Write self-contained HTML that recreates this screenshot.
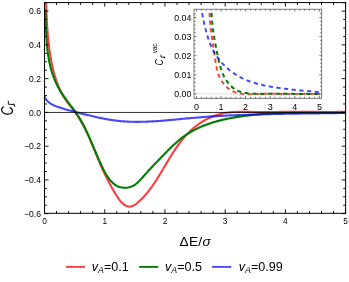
<!DOCTYPE html>
<html><head><meta charset="utf-8"><title>plot</title>
<style>html,body{margin:0;padding:0;background:#fff;}body{width:349px;height:282px;overflow:hidden;position:relative;font-family:"Liberation Sans",sans-serif;}</style></head>
<body>
<svg width="349" height="282" viewBox="0 0 349 282" style="position:absolute;left:0;top:0;will-change:transform">
<defs>
<clipPath id="cm"><rect x="44.55" y="2.6" width="301.05" height="210.70000000000002"/></clipPath>
<clipPath id="ci"><rect x="194.0" y="13" width="127.69999999999999" height="85.3"/></clipPath>
</defs>
<rect width="349" height="282" fill="#fff"/>
<g clip-path="url(#cm)" fill="none" stroke-width="2.1" stroke-linejoin="round">
<path d="M45.82 -5.99 L45.87 -4.34 L45.93 -2.68 L45.98 -1.03 L46.04 0.62 L46.10 2.28 L46.15 3.93 L46.21 5.59 L46.27 7.24 L46.33 8.90 L46.40 10.55 L46.47 12.21 L46.53 13.86 L46.61 15.52 L46.68 17.17 L46.76 18.83 L46.85 20.48 L46.94 22.14 L47.03 23.79 L47.13 25.45 L47.24 27.10 L47.35 28.75 L47.47 30.40 L47.59 32.06 L47.72 33.71 L47.86 35.36 L48.01 37.01 L48.17 38.66 L48.33 40.30 L48.50 41.95 L48.68 43.59 L48.87 45.24 L49.07 46.88 L49.28 48.52 L49.51 50.16 L49.74 51.80 L49.98 53.44 L50.23 55.08 L50.50 56.71 L50.78 58.34 L51.07 59.97 L51.38 61.60 L51.70 63.23 L52.03 64.85 L52.38 66.47 L52.75 68.08 L53.14 69.69 L53.54 71.30 L53.97 72.90 L54.41 74.49 L54.88 76.08 L55.36 77.66 L55.87 79.23 L56.40 80.80 L56.96 82.36 L57.54 83.91 L58.15 85.45 L58.78 86.98 L59.44 88.51 L60.13 90.02 L60.85 91.51 L61.60 92.99 L62.39 94.46 L63.20 95.90 L64.05 97.32 L64.94 98.72 L65.86 100.09 L66.81 101.44 L67.79 102.77 L68.80 104.09 L69.81 105.40 L70.83 106.70 L71.86 108.00 L72.88 109.30 L73.88 110.61 L74.87 111.93 L75.83 113.27 L76.77 114.63 L77.68 116.00 L78.58 117.38 L79.45 118.78 L80.31 120.19 L81.14 121.61 L81.96 123.04 L82.76 124.49 L83.54 125.94 L84.31 127.41 L85.06 128.88 L85.80 130.36 L86.52 131.85 L87.24 133.35 L87.94 134.86 L88.63 136.37 L89.31 137.88 L89.99 139.40 L90.65 140.93 L91.31 142.46 L91.96 143.99 L92.60 145.53 L93.25 147.07 L93.88 148.61 L94.52 150.15 L95.15 151.68 L95.78 153.22 L96.41 154.76 L97.04 156.30 L97.68 157.83 L98.31 159.37 L98.95 160.89 L99.59 162.42 L100.23 163.94 L100.89 165.45 L101.54 166.96 L102.21 168.46 L102.88 169.96 L103.56 171.45 L104.25 172.93 L104.95 174.41 L105.66 175.88 L106.38 177.35 L107.11 178.81 L107.86 180.27 L108.61 181.73 L109.38 183.19 L110.16 184.64 L110.96 186.09 L111.76 187.55 L112.59 189.00 L113.43 190.45 L114.28 191.90 L115.15 193.36 L116.04 194.81 L116.95 196.27 L117.89 197.72 L118.89 199.15 L119.97 200.55 L121.15 201.90 L122.43 203.18 L123.80 204.35 L125.22 205.32 L126.66 206.05 L128.10 206.48 L129.52 206.61 L130.92 206.45 L132.30 206.05 L133.66 205.45 L134.99 204.67 L136.30 203.74 L137.58 202.71 L138.84 201.61 L140.06 200.47 L141.26 199.30 L142.42 198.12 L143.57 196.91 L144.68 195.69 L145.77 194.45 L146.84 193.19 L147.89 191.92 L148.91 190.63 L149.91 189.32 L150.90 188.00 L151.87 186.67 L152.82 185.33 L153.76 183.97 L154.68 182.61 L155.59 181.23 L156.49 179.85 L157.38 178.45 L158.25 177.05 L159.12 175.64 L159.98 174.23 L160.84 172.81 L161.69 171.39 L162.54 169.96 L163.39 168.53 L164.23 167.10 L165.07 165.67 L165.92 164.24 L166.77 162.81 L167.62 161.38 L168.47 159.95 L169.33 158.52 L170.20 157.10 L171.07 155.69 L171.95 154.27 L172.85 152.87 L173.75 151.47 L174.67 150.08 L175.60 148.70 L176.55 147.32 L177.51 145.96 L178.49 144.61 L179.48 143.27 L180.49 141.95 L181.51 140.64 L182.56 139.35 L183.62 138.07 L184.71 136.81 L185.81 135.58 L186.93 134.36 L188.07 133.17 L189.24 131.99 L190.42 130.84 L191.63 129.72 L192.86 128.63 L194.12 127.56 L195.39 126.52 L196.70 125.50 L198.02 124.52 L199.37 123.57 L200.74 122.66 L202.13 121.77 L203.55 120.92 L204.98 120.11 L206.43 119.33 L207.90 118.58 L209.39 117.87 L210.89 117.20 L212.41 116.57 L213.94 115.98 L215.49 115.43 L217.05 114.92 L218.63 114.45 L220.21 114.02 L221.81 113.64 L223.42 113.30 L225.03 113.00 L226.66 112.75 L228.29 112.53 L229.93 112.34 L231.58 112.19 L233.23 112.07 L234.89 111.98 L236.55 111.91 L238.22 111.86 L239.89 111.83 L241.56 111.82 L243.24 111.82 L244.91 111.83 L246.59 111.86 L248.27 111.88 L249.94 111.92 L251.62 111.95 L253.29 111.98 L254.96 112.01 L256.63 112.04 L258.29 112.05 L259.95 112.06 L261.61 112.07 L263.27 112.07 L264.92 112.06 L266.57 112.05 L268.22 112.04 L269.87 112.03 L271.51 112.01 L273.16 111.99 L274.81 111.97 L276.45 111.96 L278.10 111.94 L279.74 111.92 L281.39 111.90 L283.04 111.88 L284.69 111.86 L286.34 111.85 L287.99 111.84 L289.64 111.83 L291.29 111.83 L292.95 111.83 L294.61 111.83 L296.26 111.83 L297.92 111.83 L299.58 111.83 L301.24 111.84 L302.90 111.84 L304.56 111.85 L306.22 111.86 L307.88 111.87 L309.54 111.88 L311.21 111.88 L312.87 111.89 L314.53 111.90 L316.19 111.91 L317.85 111.92 L319.51 111.93 L321.17 111.93 L322.83 111.94 L324.49 111.94 L326.15 111.95 L327.81 111.95 L329.46 111.95 L331.12 111.95 L332.77 111.95 L334.43 111.94 L336.08 111.93 L337.73 111.92 L339.38 111.91 L341.03 111.89 L342.67 111.87 L344.31 111.85 L345.96 111.82" stroke="#fb3e44"/>
<path d="M45.18 8.97 L45.26 10.45 L45.33 11.93 L45.39 13.42 L45.46 14.91 L45.52 16.41 L45.57 17.91 L45.63 19.41 L45.68 20.91 L45.74 22.42 L45.79 23.92 L45.85 25.43 L45.90 26.94 L45.96 28.45 L46.02 29.96 L46.09 31.48 L46.16 32.99 L46.24 34.50 L46.32 36.01 L46.41 37.52 L46.50 39.04 L46.60 40.55 L46.72 42.05 L46.84 43.56 L46.97 45.07 L47.11 46.57 L47.26 48.08 L47.43 49.58 L47.61 51.07 L47.80 52.57 L48.00 54.06 L48.22 55.55 L48.46 57.03 L48.71 58.52 L48.98 59.99 L49.26 61.47 L49.57 62.93 L49.89 64.40 L50.23 65.86 L50.60 67.31 L50.98 68.76 L51.38 70.20 L51.81 71.64 L52.26 73.07 L52.73 74.49 L53.22 75.90 L53.74 77.31 L54.27 78.71 L54.84 80.10 L55.42 81.48 L56.03 82.85 L56.67 84.21 L57.32 85.56 L58.01 86.90 L58.72 88.23 L59.45 89.54 L60.22 90.85 L61.00 92.14 L61.82 93.42 L62.65 94.69 L63.51 95.95 L64.39 97.19 L65.28 98.44 L66.18 99.67 L67.10 100.90 L68.02 102.12 L68.95 103.34 L69.88 104.56 L70.81 105.78 L71.73 107.00 L72.65 108.21 L73.56 109.43 L74.46 110.66 L75.35 111.89 L76.22 113.12 L77.07 114.36 L77.90 115.61 L78.71 116.87 L79.50 118.13 L80.27 119.40 L81.02 120.68 L81.75 121.97 L82.47 123.26 L83.17 124.56 L83.86 125.86 L84.54 127.18 L85.20 128.50 L85.85 129.82 L86.48 131.15 L87.11 132.49 L87.73 133.83 L88.35 135.18 L88.95 136.53 L89.55 137.89 L90.14 139.25 L90.73 140.62 L91.32 141.99 L91.90 143.37 L92.48 144.75 L93.06 146.14 L93.64 147.52 L94.23 148.92 L94.81 150.31 L95.40 151.71 L95.99 153.11 L96.59 154.52 L97.19 155.93 L97.80 157.34 L98.42 158.75 L99.05 160.17 L99.69 161.59 L100.33 163.00 L100.99 164.43 L101.66 165.85 L102.35 167.27 L103.05 168.70 L103.76 170.11 L104.50 171.52 L105.26 172.90 L106.04 174.26 L106.85 175.59 L107.68 176.88 L108.55 178.13 L109.45 179.33 L110.38 180.47 L111.35 181.55 L112.37 182.57 L113.42 183.51 L114.52 184.38 L115.66 185.16 L116.85 185.85 L118.10 186.44 L119.39 186.93 L120.74 187.31 L122.13 187.58 L123.56 187.74 L125.00 187.78 L126.45 187.72 L127.91 187.54 L129.34 187.24 L130.75 186.83 L132.13 186.29 L133.45 185.64 L134.72 184.87 L135.94 184.00 L137.10 183.04 L138.23 182.00 L139.33 180.90 L140.40 179.77 L141.45 178.60 L142.49 177.43 L143.52 176.26 L144.55 175.11 L145.58 173.96 L146.60 172.83 L147.63 171.70 L148.66 170.58 L149.68 169.48 L150.70 168.38 L151.73 167.28 L152.75 166.19 L153.78 165.11 L154.80 164.03 L155.83 162.95 L156.86 161.88 L157.89 160.81 L158.93 159.73 L159.96 158.66 L161.00 157.59 L162.05 156.52 L163.09 155.45 L164.15 154.37 L165.20 153.29 L166.26 152.21 L167.33 151.13 L168.40 150.06 L169.48 148.98 L170.56 147.92 L171.66 146.86 L172.76 145.80 L173.87 144.76 L174.99 143.73 L176.12 142.71 L177.26 141.71 L178.41 140.72 L179.58 139.75 L180.75 138.80 L181.94 137.87 L183.14 136.96 L184.36 136.07 L185.59 135.21 L186.83 134.38 L188.09 133.56 L189.36 132.78 L190.64 132.01 L191.94 131.27 L193.25 130.54 L194.57 129.85 L195.90 129.17 L197.24 128.51 L198.59 127.87 L199.95 127.26 L201.32 126.66 L202.71 126.08 L204.10 125.52 L205.50 124.98 L206.90 124.46 L208.32 123.95 L209.74 123.47 L211.17 123.00 L212.61 122.54 L214.05 122.10 L215.50 121.68 L216.95 121.27 L218.41 120.88 L219.88 120.50 L221.35 120.13 L222.82 119.78 L224.30 119.44 L225.78 119.11 L227.26 118.79 L228.75 118.49 L230.24 118.20 L231.73 117.92 L233.22 117.65 L234.71 117.38 L236.20 117.13 L237.70 116.89 L239.19 116.66 L240.68 116.43 L242.18 116.22 L243.67 116.01 L245.17 115.81 L246.67 115.62 L248.16 115.43 L249.66 115.26 L251.16 115.09 L252.66 114.93 L254.15 114.78 L255.65 114.63 L257.15 114.50 L258.65 114.36 L260.15 114.24 L261.65 114.12 L263.15 114.01 L264.65 113.90 L266.15 113.80 L267.65 113.71 L269.16 113.62 L270.66 113.54 L272.16 113.46 L273.66 113.39 L275.17 113.32 L276.67 113.26 L278.17 113.20 L279.68 113.15 L281.18 113.10 L282.69 113.06 L284.19 113.02 L285.70 112.98 L287.20 112.95 L288.71 112.92 L290.21 112.89 L291.72 112.87 L293.22 112.85 L294.73 112.83 L296.24 112.81 L297.74 112.80 L299.25 112.79 L300.76 112.78 L302.26 112.78 L303.77 112.77 L305.28 112.77 L306.79 112.77 L308.30 112.77 L309.80 112.77 L311.31 112.78 L312.82 112.78 L314.33 112.78 L315.84 112.79 L317.35 112.79 L318.85 112.80 L320.36 112.80 L321.87 112.81 L323.38 112.81 L324.89 112.81 L326.40 112.82 L327.91 112.82 L329.42 112.82 L330.93 112.82 L332.44 112.82 L333.94 112.81 L335.45 112.81 L336.96 112.80 L338.47 112.79 L339.98 112.78 L341.49 112.77 L343.00 112.75 L344.51 112.73 L346.02 112.71" stroke="#007d00"/>
<path d="M44.19 96.10 L44.64 97.08 L45.14 98.01 L45.69 98.87 L46.28 99.68 L46.91 100.44 L47.59 101.16 L48.30 101.82 L49.05 102.45 L49.83 103.03 L50.64 103.58 L51.48 104.09 L52.35 104.57 L53.23 105.03 L54.14 105.45 L55.06 105.85 L56.00 106.24 L56.95 106.60 L57.92 106.95 L58.89 107.29 L59.86 107.61 L60.84 107.93 L61.82 108.25 L62.80 108.55 L63.79 108.85 L64.78 109.15 L65.77 109.43 L66.76 109.72 L67.76 109.99 L68.75 110.27 L69.75 110.54 L70.75 110.80 L71.76 111.07 L72.76 111.33 L73.76 111.58 L74.77 111.84 L75.77 112.10 L76.78 112.35 L77.79 112.60 L78.80 112.85 L79.80 113.11 L80.81 113.36 L81.82 113.61 L82.83 113.86 L83.84 114.11 L84.85 114.36 L85.86 114.61 L86.86 114.86 L87.87 115.11 L88.88 115.35 L89.89 115.60 L90.90 115.84 L91.91 116.08 L92.92 116.32 L93.93 116.55 L94.94 116.78 L95.95 117.01 L96.97 117.24 L97.98 117.46 L98.99 117.68 L100.00 117.89 L101.01 118.10 L102.03 118.31 L103.04 118.51 L104.05 118.71 L105.07 118.90 L106.08 119.09 L107.09 119.27 L108.11 119.45 L109.12 119.62 L110.14 119.79 L111.16 119.95 L112.17 120.10 L113.19 120.25 L114.21 120.39 L115.22 120.53 L116.24 120.65 L117.26 120.77 L118.28 120.89 L119.30 120.99 L120.32 121.09 L121.34 121.18 L122.36 121.27 L123.38 121.35 L124.40 121.42 L125.42 121.49 L126.45 121.55 L127.47 121.60 L128.49 121.65 L129.52 121.69 L130.54 121.73 L131.56 121.76 L132.59 121.79 L133.61 121.81 L134.64 121.83 L135.66 121.84 L136.69 121.84 L137.72 121.84 L138.74 121.84 L139.77 121.83 L140.80 121.82 L141.82 121.80 L142.85 121.78 L143.88 121.75 L144.91 121.72 L145.93 121.69 L146.96 121.65 L147.99 121.61 L149.02 121.56 L150.05 121.51 L151.08 121.46 L152.11 121.40 L153.14 121.35 L154.17 121.28 L155.20 121.22 L156.23 121.15 L157.26 121.08 L158.29 121.01 L159.32 120.94 L160.35 120.86 L161.38 120.78 L162.41 120.70 L163.45 120.62 L164.48 120.53 L165.51 120.44 L166.54 120.35 L167.57 120.26 L168.60 120.17 L169.64 120.08 L170.67 119.99 L171.70 119.89 L172.73 119.80 L173.76 119.70 L174.80 119.60 L175.83 119.50 L176.86 119.41 L177.89 119.31 L178.93 119.21 L179.96 119.11 L180.99 119.01 L182.02 118.91 L183.06 118.81 L184.09 118.71 L185.12 118.62 L186.15 118.52 L187.19 118.42 L188.22 118.33 L189.25 118.23 L190.28 118.14 L191.31 118.05 L192.35 117.95 L193.38 117.86 L194.41 117.78 L195.44 117.69 L196.47 117.60 L197.50 117.52 L198.54 117.43 L199.57 117.35 L200.60 117.27 L201.63 117.19 L202.66 117.11 L203.69 117.04 L204.72 116.96 L205.75 116.88 L206.79 116.81 L207.82 116.74 L208.85 116.67 L209.88 116.60 L210.91 116.53 L211.94 116.46 L212.97 116.39 L214.00 116.33 L215.03 116.26 L216.06 116.20 L217.09 116.14 L218.12 116.08 L219.15 116.02 L220.18 115.96 L221.21 115.90 L222.24 115.84 L223.27 115.79 L224.30 115.73 L225.33 115.68 L226.36 115.62 L227.39 115.57 L228.42 115.52 L229.45 115.47 L230.48 115.42 L231.51 115.37 L232.54 115.32 L233.57 115.28 L234.60 115.23 L235.63 115.19 L236.66 115.14 L237.69 115.10 L238.72 115.06 L239.75 115.01 L240.78 114.97 L241.81 114.93 L242.84 114.89 L243.87 114.85 L244.90 114.82 L245.93 114.78 L246.96 114.74 L247.99 114.71 L249.02 114.67 L250.05 114.64 L251.08 114.61 L252.11 114.57 L253.14 114.54 L254.17 114.51 L255.20 114.48 L256.23 114.45 L257.26 114.42 L258.29 114.39 L259.32 114.36 L260.35 114.33 L261.38 114.31 L262.41 114.28 L263.44 114.25 L264.47 114.23 L265.50 114.20 L266.53 114.18 L267.56 114.15 L268.59 114.13 L269.62 114.11 L270.65 114.08 L271.68 114.06 L272.71 114.04 L273.74 114.02 L274.77 114.00 L275.80 113.98 L276.83 113.96 L277.86 113.94 L278.89 113.92 L279.92 113.90 L280.95 113.88 L281.98 113.86 L283.02 113.85 L284.05 113.83 L285.08 113.81 L286.11 113.79 L287.14 113.78 L288.17 113.76 L289.20 113.74 L290.23 113.73 L291.26 113.71 L292.30 113.70 L293.33 113.68 L294.36 113.67 L295.39 113.65 L296.42 113.64 L297.45 113.62 L298.49 113.61 L299.52 113.59 L300.55 113.58 L301.58 113.57 L302.61 113.55 L303.65 113.54 L304.68 113.52 L305.71 113.51 L306.74 113.50 L307.78 113.48 L308.81 113.47 L309.84 113.46 L310.87 113.44 L311.91 113.43 L312.94 113.42 L313.97 113.40 L315.01 113.39 L316.04 113.38 L317.07 113.36 L318.11 113.35 L319.14 113.33 L320.18 113.32 L321.21 113.31 L322.24 113.29 L323.28 113.28 L324.31 113.26 L325.35 113.25 L326.38 113.24 L327.42 113.22 L328.45 113.21 L329.49 113.19 L330.52 113.18 L331.56 113.16 L332.59 113.14 L333.63 113.13 L334.66 113.11 L335.70 113.09 L336.73 113.08 L337.77 113.06 L338.81 113.04 L339.84 113.03 L340.88 113.01 L341.92 112.99 L342.95 112.97 L343.99 112.95 L345.03 112.93 L346.06 112.91" stroke="#0000fa" stroke-opacity="0.72"/>
</g>
<line x1="44.55" x2="345.6" y1="112.45" y2="112.45" stroke="#000" stroke-width="0.8"/>
<rect x="44.55" y="2.6" width="301.05" height="210.70000000000002" fill="none" stroke="#000" stroke-width="1"/>
<path d="M44.50 213.3 v-4.0 M44.50 2.6 v4.0 M56.54 213.3 v-2.4 M56.54 2.6 v2.4 M68.59 213.3 v-2.4 M68.59 2.6 v2.4 M80.63 213.3 v-2.4 M80.63 2.6 v2.4 M92.68 213.3 v-2.4 M92.68 2.6 v2.4 M104.72 213.3 v-4.0 M104.72 2.6 v4.0 M116.76 213.3 v-2.4 M116.76 2.6 v2.4 M128.81 213.3 v-2.4 M128.81 2.6 v2.4 M140.85 213.3 v-2.4 M140.85 2.6 v2.4 M152.90 213.3 v-2.4 M152.90 2.6 v2.4 M164.94 213.3 v-4.0 M164.94 2.6 v4.0 M176.98 213.3 v-2.4 M176.98 2.6 v2.4 M189.03 213.3 v-2.4 M189.03 2.6 v2.4 M201.07 213.3 v-2.4 M201.07 2.6 v2.4 M213.12 213.3 v-2.4 M213.12 2.6 v2.4 M225.16 213.3 v-4.0 M225.16 2.6 v4.0 M237.20 213.3 v-2.4 M237.20 2.6 v2.4 M249.25 213.3 v-2.4 M249.25 2.6 v2.4 M261.29 213.3 v-2.4 M261.29 2.6 v2.4 M273.34 213.3 v-2.4 M273.34 2.6 v2.4 M285.38 213.3 v-4.0 M285.38 2.6 v4.0 M297.42 213.3 v-2.4 M297.42 2.6 v2.4 M309.47 213.3 v-2.4 M309.47 2.6 v2.4 M321.51 213.3 v-2.4 M321.51 2.6 v2.4 M333.56 213.3 v-2.4 M333.56 2.6 v2.4 M345.60 213.3 v-4.0 M345.60 2.6 v4.0 M44.55 213.68 h4.0 M345.6 213.68 h-4.0 M44.55 205.24 h2.4 M345.6 205.24 h-2.4 M44.55 196.80 h2.4 M345.6 196.80 h-2.4 M44.55 188.36 h2.4 M345.6 188.36 h-2.4 M44.55 179.92 h4.0 M345.6 179.92 h-4.0 M44.55 171.48 h2.4 M345.6 171.48 h-2.4 M44.55 163.04 h2.4 M345.6 163.04 h-2.4 M44.55 154.60 h2.4 M345.6 154.60 h-2.4 M44.55 146.16 h4.0 M345.6 146.16 h-4.0 M44.55 137.72 h2.4 M345.6 137.72 h-2.4 M44.55 129.28 h2.4 M345.6 129.28 h-2.4 M44.55 120.84 h2.4 M345.6 120.84 h-2.4 M44.55 112.40 h4.0 M345.6 112.40 h-4.0 M44.55 103.96 h2.4 M345.6 103.96 h-2.4 M44.55 95.52 h2.4 M345.6 95.52 h-2.4 M44.55 87.08 h2.4 M345.6 87.08 h-2.4 M44.55 78.64 h4.0 M345.6 78.64 h-4.0 M44.55 70.20 h2.4 M345.6 70.20 h-2.4 M44.55 61.76 h2.4 M345.6 61.76 h-2.4 M44.55 53.32 h2.4 M345.6 53.32 h-2.4 M44.55 44.88 h4.0 M345.6 44.88 h-4.0 M44.55 36.44 h2.4 M345.6 36.44 h-2.4 M44.55 28.00 h2.4 M345.6 28.00 h-2.4 M44.55 19.56 h2.4 M345.6 19.56 h-2.4 M44.55 11.12 h4.0 M345.6 11.12 h-4.0 M44.55 2.68 h2.4 M345.6 2.68 h-2.4" stroke="#000" stroke-width="0.9" fill="none"/>
<g font-family="Liberation Sans, sans-serif" font-size="8.6" fill="#000">
<text x="44.50" y="224.2" font-size="8.3" text-anchor="middle">0</text>
<text x="104.72" y="224.2" font-size="8.3" text-anchor="middle">1</text>
<text x="164.94" y="224.2" font-size="8.3" text-anchor="middle">2</text>
<text x="225.16" y="224.2" font-size="8.3" text-anchor="middle">3</text>
<text x="285.38" y="224.2" font-size="8.3" text-anchor="middle">4</text>
<text x="345.60" y="224.2" font-size="8.3" text-anchor="middle">5</text>
<text x="41" y="14.22" text-anchor="end">0.6</text>
<text x="41" y="47.98" text-anchor="end">0.4</text>
<text x="41" y="81.74" text-anchor="end">0.2</text>
<text x="41" y="115.50" text-anchor="end">0.0</text>
<text x="41" y="149.26" text-anchor="end">−0.2</text>
<text x="41" y="183.02" text-anchor="end">−0.4</text>
<text x="41" y="216.78" text-anchor="end">−0.6</text>
</g>
<rect x="194.0" y="9.2" width="127.69999999999999" height="89.1" fill="#fff" stroke="none"/>
<line x1="194.0" x2="321.7" y1="93.9" y2="93.9" stroke="#ccc" stroke-width="0.6"/>
<g clip-path="url(#ci)" fill="none" stroke-width="2.0" stroke-dasharray="4.2 3.5">
<path d="M209.61 12.88 L209.64 13.78 L209.67 14.68 L209.71 15.57 L209.75 16.46 L209.80 17.35 L209.85 18.24 L209.91 19.12 L209.97 20.00 L210.03 20.87 L210.10 21.74 L210.17 22.61 L210.25 23.48 L210.33 24.35 L210.41 25.21 L210.49 26.07 L210.58 26.93 L210.67 27.79 L210.77 28.64 L210.87 29.50 L210.97 30.35 L211.07 31.20 L211.18 32.05 L211.29 32.90 L211.40 33.75 L211.51 34.60 L211.62 35.45 L211.74 36.29 L211.86 37.14 L211.98 37.98 L212.10 38.83 L212.22 39.68 L212.35 40.52 L212.48 41.37 L212.60 42.22 L212.73 43.06 L212.86 43.91 L212.99 44.76 L213.12 45.61 L213.25 46.46 L213.38 47.31 L213.51 48.17 L213.65 49.02 L213.78 49.88 L213.91 50.74 L214.04 51.60 L214.17 52.46 L214.30 53.33 L214.43 54.19 L214.56 55.06 L214.69 55.94 L214.82 56.81 L214.95 57.69 L215.08 58.57 L215.21 59.45 L215.34 60.33 L215.48 61.21 L215.61 62.09 L215.76 62.97 L215.90 63.85 L216.06 64.73 L216.22 65.61 L216.39 66.48 L216.57 67.35 L216.75 68.21 L216.95 69.07 L217.16 69.93 L217.38 70.78 L217.61 71.62 L217.86 72.46 L218.12 73.29 L218.39 74.11 L218.69 74.92 L218.99 75.73 L219.32 76.52 L219.66 77.31 L220.03 78.08 L220.41 78.84 L220.82 79.60 L221.24 80.33 L221.69 81.06 L222.15 81.77 L222.64 82.47 L223.14 83.16 L223.67 83.82 L224.21 84.48 L224.77 85.11 L225.34 85.73 L225.94 86.33 L226.55 86.91 L227.18 87.47 L227.82 88.01 L228.48 88.53 L229.15 89.03 L229.84 89.51 L230.54 89.96 L231.26 90.39 L231.99 90.80 L232.73 91.19 L233.49 91.54 L234.26 91.87 L235.04 92.18 L235.83 92.46 L236.63 92.71 L237.44 92.94 L238.26 93.14 L239.09 93.32 L239.93 93.48 L240.78 93.62 L241.63 93.74 L242.50 93.84 L243.36 93.93 L244.24 94.00 L245.12 94.05 L246.00 94.09 L246.89 94.12 L247.78 94.14 L248.67 94.15 L249.57 94.15 L250.47 94.14 L251.36 94.12 L252.26 94.10 L253.16 94.08 L254.06 94.05 L254.96 94.02 L255.86 93.99 L256.75 93.96 L257.64 93.93 L258.53 93.90 L259.41 93.88 L260.29 93.86 L261.17 93.84 L262.05 93.82 L262.92 93.81 L263.79 93.80 L264.65 93.80 L265.52 93.79 L266.38 93.79 L267.24 93.79 L268.10 93.79 L268.95 93.79 L269.81 93.80 L270.66 93.80 L271.52 93.81 L272.37 93.81 L273.23 93.82 L274.08 93.83 L274.93 93.84 L275.79 93.85 L276.64 93.85 L277.50 93.86 L278.35 93.87 L279.21 93.88 L280.07 93.88 L280.93 93.89 L281.79 93.90 L282.65 93.90 L283.52 93.90 L284.38 93.91 L285.25 93.91 L286.11 93.91 L286.98 93.92 L287.85 93.92 L288.72 93.92 L289.59 93.92 L290.46 93.92 L291.33 93.92 L292.20 93.92 L293.07 93.92 L293.94 93.92 L294.81 93.92 L295.69 93.92 L296.56 93.92 L297.43 93.92 L298.30 93.92 L299.18 93.92 L300.05 93.91 L300.92 93.91 L301.79 93.91 L302.67 93.91 L303.54 93.91 L304.41 93.91 L305.28 93.90 L306.15 93.90 L307.02 93.90 L307.89 93.90 L308.76 93.90 L309.63 93.90 L310.49 93.90 L311.36 93.89 L312.22 93.89 L313.09 93.89 L313.95 93.89 L314.81 93.89 L315.67 93.89 L316.53 93.89 L317.39 93.89 L318.25 93.90 L319.10 93.90 L319.96 93.90" stroke="#fb3e44"/>
<path d="M211.55 12.92 L211.59 13.79 L211.62 14.66 L211.67 15.52 L211.71 16.38 L211.76 17.24 L211.82 18.09 L211.88 18.95 L211.94 19.80 L212.01 20.64 L212.09 21.49 L212.16 22.33 L212.24 23.18 L212.33 24.02 L212.42 24.86 L212.51 25.69 L212.60 26.53 L212.70 27.36 L212.81 28.19 L212.91 29.03 L213.02 29.86 L213.14 30.68 L213.25 31.51 L213.37 32.34 L213.50 33.17 L213.62 33.99 L213.75 34.82 L213.88 35.64 L214.01 36.46 L214.15 37.29 L214.29 38.11 L214.43 38.93 L214.58 39.75 L214.72 40.58 L214.87 41.40 L215.02 42.22 L215.17 43.04 L215.33 43.87 L215.49 44.69 L215.65 45.51 L215.81 46.34 L215.97 47.16 L216.13 47.99 L216.30 48.81 L216.46 49.64 L216.63 50.47 L216.80 51.30 L216.97 52.13 L217.15 52.96 L217.32 53.79 L217.49 54.63 L217.67 55.46 L217.85 56.30 L218.02 57.14 L218.20 57.98 L218.38 58.82 L218.57 59.66 L218.76 60.50 L218.95 61.34 L219.15 62.18 L219.35 63.02 L219.56 63.86 L219.77 64.69 L219.99 65.52 L220.22 66.35 L220.46 67.18 L220.70 68.00 L220.96 68.82 L221.22 69.63 L221.50 70.44 L221.78 71.24 L222.08 72.04 L222.39 72.83 L222.71 73.62 L223.05 74.40 L223.40 75.17 L223.76 75.94 L224.14 76.69 L224.53 77.44 L224.94 78.18 L225.36 78.91 L225.79 79.63 L226.25 80.33 L226.71 81.03 L227.19 81.71 L227.68 82.37 L228.19 83.03 L228.71 83.66 L229.25 84.28 L229.80 84.89 L230.37 85.48 L230.95 86.05 L231.55 86.60 L232.15 87.13 L232.78 87.64 L233.42 88.13 L234.07 88.60 L234.74 89.04 L235.42 89.47 L236.11 89.87 L236.82 90.24 L237.55 90.59 L238.29 90.92 L239.04 91.22 L239.80 91.50 L240.57 91.76 L241.36 92.00 L242.15 92.22 L242.96 92.42 L243.77 92.61 L244.59 92.78 L245.43 92.93 L246.26 93.06 L247.11 93.19 L247.96 93.29 L248.81 93.39 L249.67 93.47 L250.53 93.55 L251.40 93.61 L252.27 93.66 L253.14 93.71 L254.01 93.74 L254.88 93.77 L255.76 93.80 L256.63 93.82 L257.50 93.83 L258.37 93.85 L259.24 93.86 L260.10 93.87 L260.96 93.87 L261.82 93.88 L262.68 93.88 L263.53 93.88 L264.39 93.88 L265.24 93.88 L266.08 93.88 L266.93 93.88 L267.78 93.87 L268.62 93.87 L269.46 93.87 L270.30 93.86 L271.14 93.86 L271.98 93.85 L272.82 93.85 L273.66 93.84 L274.49 93.83 L275.33 93.83 L276.17 93.82 L277.00 93.82 L277.84 93.82 L278.68 93.81 L279.51 93.81 L280.35 93.81 L281.19 93.81 L282.03 93.81 L282.87 93.81 L283.71 93.81 L284.55 93.82 L285.39 93.82 L286.23 93.82 L287.07 93.83 L287.91 93.83 L288.75 93.84 L289.59 93.84 L290.44 93.85 L291.28 93.86 L292.12 93.86 L292.96 93.87 L293.81 93.88 L294.65 93.88 L295.49 93.89 L296.34 93.90 L297.18 93.90 L298.03 93.91 L298.87 93.91 L299.72 93.92 L300.56 93.92 L301.41 93.93 L302.25 93.93 L303.10 93.94 L303.94 93.94 L304.79 93.94 L305.64 93.95 L306.48 93.95 L307.33 93.95 L308.17 93.95 L309.02 93.95 L309.86 93.95 L310.71 93.94 L311.56 93.94 L312.40 93.94 L313.25 93.93 L314.09 93.92 L314.94 93.92 L315.79 93.91 L316.63 93.90 L317.48 93.88 L318.32 93.87 L319.17 93.86 L320.01 93.84" stroke="#007d00"/>
<path d="M202.08 13.09 L202.23 13.84 L202.38 14.60 L202.53 15.36 L202.68 16.12 L202.83 16.89 L202.99 17.66 L203.14 18.43 L203.30 19.20 L203.46 19.97 L203.62 20.75 L203.78 21.53 L203.95 22.31 L204.12 23.09 L204.29 23.87 L204.47 24.66 L204.65 25.44 L204.83 26.22 L205.01 27.01 L205.20 27.80 L205.39 28.58 L205.59 29.37 L205.79 30.15 L206.00 30.94 L206.21 31.72 L206.42 32.51 L206.64 33.29 L206.86 34.07 L207.09 34.85 L207.32 35.63 L207.56 36.41 L207.81 37.18 L208.06 37.96 L208.31 38.73 L208.58 39.50 L208.84 40.26 L209.12 41.02 L209.40 41.79 L209.69 42.54 L209.98 43.30 L210.28 44.05 L210.59 44.79 L210.91 45.53 L211.23 46.27 L211.56 47.01 L211.90 47.74 L212.25 48.46 L212.60 49.18 L212.96 49.90 L213.33 50.61 L213.71 51.31 L214.10 52.01 L214.50 52.71 L214.91 53.39 L215.32 54.08 L215.74 54.75 L216.17 55.42 L216.61 56.09 L217.06 56.74 L217.52 57.40 L217.98 58.04 L218.46 58.68 L218.94 59.31 L219.43 59.94 L219.92 60.56 L220.43 61.17 L220.94 61.78 L221.46 62.38 L221.98 62.98 L222.52 63.56 L223.06 64.15 L223.61 64.72 L224.16 65.29 L224.72 65.85 L225.29 66.40 L225.87 66.95 L226.45 67.49 L227.04 68.02 L227.63 68.55 L228.23 69.06 L228.84 69.57 L229.45 70.08 L230.07 70.57 L230.70 71.06 L231.33 71.54 L231.97 72.02 L232.61 72.48 L233.26 72.94 L233.91 73.39 L234.57 73.84 L235.23 74.27 L235.90 74.70 L236.58 75.12 L237.26 75.53 L237.94 75.94 L238.63 76.33 L239.32 76.72 L240.02 77.10 L240.72 77.47 L241.43 77.83 L242.14 78.19 L242.86 78.53 L243.58 78.87 L244.30 79.20 L245.03 79.53 L245.76 79.84 L246.49 80.15 L247.23 80.45 L247.97 80.74 L248.72 81.02 L249.47 81.30 L250.22 81.57 L250.97 81.84 L251.73 82.10 L252.49 82.35 L253.26 82.59 L254.02 82.83 L254.79 83.06 L255.56 83.29 L256.34 83.51 L257.11 83.72 L257.89 83.93 L258.67 84.14 L259.46 84.34 L260.24 84.53 L261.03 84.72 L261.81 84.90 L262.60 85.08 L263.40 85.26 L264.19 85.43 L264.98 85.59 L265.78 85.75 L266.58 85.91 L267.37 86.06 L268.17 86.21 L268.97 86.36 L269.77 86.50 L270.57 86.64 L271.37 86.78 L272.18 86.91 L272.98 87.04 L273.78 87.17 L274.58 87.29 L275.39 87.41 L276.19 87.53 L276.99 87.65 L277.80 87.76 L278.60 87.88 L279.40 87.99 L280.20 88.10 L281.00 88.20 L281.80 88.31 L282.60 88.41 L283.40 88.52 L284.20 88.62 L285.00 88.72 L285.80 88.82 L286.59 88.92 L287.39 89.01 L288.18 89.11 L288.98 89.20 L289.77 89.30 L290.57 89.39 L291.36 89.48 L292.15 89.57 L292.95 89.66 L293.74 89.75 L294.53 89.83 L295.32 89.92 L296.11 90.00 L296.91 90.09 L297.70 90.17 L298.49 90.25 L299.28 90.33 L300.07 90.41 L300.86 90.49 L301.65 90.57 L302.44 90.64 L303.24 90.72 L304.03 90.79 L304.82 90.87 L305.61 90.94 L306.40 91.01 L307.20 91.09 L307.99 91.16 L308.78 91.23 L309.57 91.30 L310.37 91.37 L311.16 91.43 L311.96 91.50 L312.75 91.57 L313.55 91.63 L314.34 91.70 L315.14 91.76 L315.93 91.83 L316.73 91.89 L317.53 91.96 L318.33 92.02 L319.13 92.08 L319.93 92.14" stroke="#0000fa" stroke-opacity="0.72"/>
</g>
<rect x="194.0" y="9.2" width="127.69999999999999" height="89.1" fill="none" stroke="#555" stroke-width="0.75"/>
<path d="M196.40 98.3 v-2.4 M196.40 9.2 v2.4 M201.32 98.3 v-1.5 M201.32 9.2 v1.5 M206.24 98.3 v-1.5 M206.24 9.2 v1.5 M211.16 98.3 v-1.5 M211.16 9.2 v1.5 M216.08 98.3 v-1.5 M216.08 9.2 v1.5 M221.00 98.3 v-2.4 M221.00 9.2 v2.4 M225.92 98.3 v-1.5 M225.92 9.2 v1.5 M230.84 98.3 v-1.5 M230.84 9.2 v1.5 M235.76 98.3 v-1.5 M235.76 9.2 v1.5 M240.68 98.3 v-1.5 M240.68 9.2 v1.5 M245.60 98.3 v-2.4 M245.60 9.2 v2.4 M250.52 98.3 v-1.5 M250.52 9.2 v1.5 M255.44 98.3 v-1.5 M255.44 9.2 v1.5 M260.36 98.3 v-1.5 M260.36 9.2 v1.5 M265.28 98.3 v-1.5 M265.28 9.2 v1.5 M270.20 98.3 v-2.4 M270.20 9.2 v2.4 M275.12 98.3 v-1.5 M275.12 9.2 v1.5 M280.04 98.3 v-1.5 M280.04 9.2 v1.5 M284.96 98.3 v-1.5 M284.96 9.2 v1.5 M289.88 98.3 v-1.5 M289.88 9.2 v1.5 M294.80 98.3 v-2.4 M294.80 9.2 v2.4 M299.72 98.3 v-1.5 M299.72 9.2 v1.5 M304.64 98.3 v-1.5 M304.64 9.2 v1.5 M309.56 98.3 v-1.5 M309.56 9.2 v1.5 M314.48 98.3 v-1.5 M314.48 9.2 v1.5 M319.40 98.3 v-2.4 M319.40 9.2 v2.4 M194.0 93.90 h2.4 M321.7 93.90 h-2.4 M194.0 90.08 h1.5 M321.7 90.08 h-1.5 M194.0 86.26 h1.5 M321.7 86.26 h-1.5 M194.0 82.44 h1.5 M321.7 82.44 h-1.5 M194.0 78.62 h1.5 M321.7 78.62 h-1.5 M194.0 74.80 h2.4 M321.7 74.80 h-2.4 M194.0 70.98 h1.5 M321.7 70.98 h-1.5 M194.0 67.16 h1.5 M321.7 67.16 h-1.5 M194.0 63.34 h1.5 M321.7 63.34 h-1.5 M194.0 59.52 h1.5 M321.7 59.52 h-1.5 M194.0 55.70 h2.4 M321.7 55.70 h-2.4 M194.0 51.88 h1.5 M321.7 51.88 h-1.5 M194.0 48.06 h1.5 M321.7 48.06 h-1.5 M194.0 44.24 h1.5 M321.7 44.24 h-1.5 M194.0 40.42 h1.5 M321.7 40.42 h-1.5 M194.0 36.60 h2.4 M321.7 36.60 h-2.4 M194.0 32.78 h1.5 M321.7 32.78 h-1.5 M194.0 28.96 h1.5 M321.7 28.96 h-1.5 M194.0 25.14 h1.5 M321.7 25.14 h-1.5 M194.0 21.32 h1.5 M321.7 21.32 h-1.5 M194.0 17.50 h2.4 M321.7 17.50 h-2.4 M194.0 13.68 h1.5 M321.7 13.68 h-1.5" stroke="#333" stroke-width="0.65" fill="none"/>
<g font-family="Liberation Sans, sans-serif" font-size="8.8" fill="#000">
<text x="196.40" y="109.5" font-size="9" text-anchor="middle">0</text>
<text x="221.00" y="109.5" font-size="9" text-anchor="middle">1</text>
<text x="245.60" y="109.5" font-size="9" text-anchor="middle">2</text>
<text x="270.20" y="109.5" font-size="9" text-anchor="middle">3</text>
<text x="294.80" y="109.5" font-size="9" text-anchor="middle">4</text>
<text x="319.40" y="109.5" font-size="9" text-anchor="middle">5</text>
<text x="191.3" y="96.90" text-anchor="end">0.00</text>
<text x="191.3" y="77.97" text-anchor="end">0.01</text>
<text x="191.3" y="59.04" text-anchor="end">0.02</text>
<text x="191.3" y="40.11" text-anchor="end">0.03</text>
<text x="191.3" y="21.18" text-anchor="end">0.04</text>
</g>
<g transform="translate(163.0,66) rotate(-90)" fill="#000">
<text x="0.6" y="0" font-family="Liberation Sans, sans-serif" font-style="italic" font-size="10.4" transform="scale(0.85,1)">C</text>
<text x="12.8" y="-6.0" font-family="Liberation Sans, sans-serif" font-size="6.3">vac</text>
</g>
<path d="M161.0 54.7 L161.0 57.1 L164.6 57.3 M164.2 56.5 L164.9 58.6" fill="none" stroke="#000" stroke-width="0.85" stroke-linejoin="round"/>
<g transform="translate(13.4,115.5) rotate(-90)" fill="#000">
<text x="0" y="0" font-family="Liberation Sans, sans-serif" font-style="italic" font-size="15.6" transform="scale(0.82,1)">C</text>
</g>
<path d="M8.3 100.9 L8.35 104.2 L14.3 104.6 M13.6 103.6 L14.9 106.8" fill="none" stroke="#000" stroke-width="0.9" stroke-linejoin="round"/>
<text x="195.3" y="245.5" text-anchor="middle" font-family="Liberation Sans, sans-serif" font-size="13.6" letter-spacing="0.4" fill="#000">ΔE/<tspan font-style="italic">σ</tspan></text>
<line x1="66" x2="85" y1="266.9" y2="266.9" stroke="#fb3e44" stroke-width="1.9"/>
<text x="91.8" y="271.3" font-family="Liberation Sans, sans-serif" font-size="12.6" fill="#000"><tspan font-style="italic">v</tspan><tspan font-style="italic" font-size="8.8" dy="2">A</tspan><tspan dy="-2">=0.1</tspan></text>
<line x1="139.2" x2="158.2" y1="266.9" y2="266.9" stroke="#007d00" stroke-width="1.9"/>
<text x="165" y="271.3" font-family="Liberation Sans, sans-serif" font-size="12.6" fill="#000"><tspan font-style="italic">v</tspan><tspan font-style="italic" font-size="8.8" dy="2">A</tspan><tspan dy="-2">=0.5</tspan></text>
<line x1="212" x2="231.2" y1="266.9" y2="266.9" stroke="#4848f5" stroke-width="1.9"/>
<text x="238.8" y="271.3" font-family="Liberation Sans, sans-serif" font-size="12.6" fill="#000"><tspan font-style="italic">v</tspan><tspan font-style="italic" font-size="8.8" dy="2">A</tspan><tspan dy="-2">=0.99</tspan></text>
</svg>
</body></html>
